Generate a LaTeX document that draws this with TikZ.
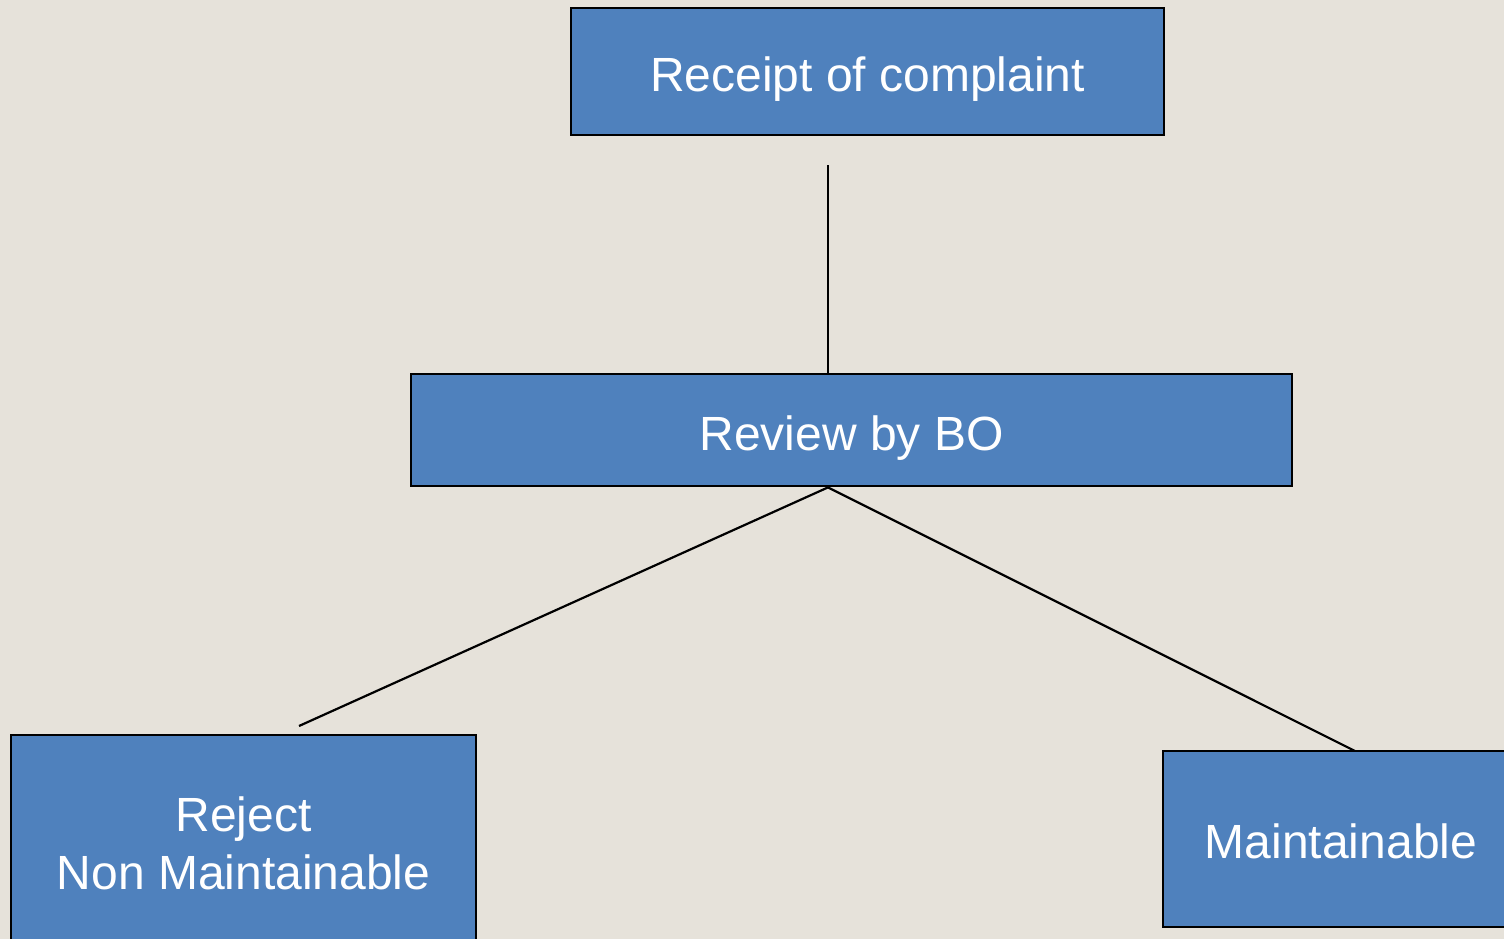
\documentclass[tikz,border=0pt]{standalone}
\usepackage{fontspec}
\setmainfont{Liberation Sans}
\definecolor{bg}{HTML}{E6E2DA}
\definecolor{boxblue}{HTML}{4F81BD}
\tikzset{
  box/.style={draw=black, line width=2.8pt, fill=boxblue, text=white, font=\fontsize{48}{58}\selectfont, align=center, inner sep=0pt, anchor=center},
  oneline/.style={text height=40pt, text depth=0pt},
  conn/.style={draw=black, line width=2.2pt}
}
\begin{document}
\begin{tikzpicture}[x=1pt,y=-1pt]
\useasboundingbox (0,0) rectangle (1504,939);
\clip (0,0) rectangle (1504,939);
\fill[bg] (0,0) rectangle (1504,939);
\node[box, oneline, minimum width=593pt, minimum height=127pt] (receipt) at (867.5,71.5) {Receipt of complaint};
\node[box, oneline, minimum width=881pt, minimum height=112pt] (review) at (851.5,430) {Review by BO};
\node[box, minimum width=465pt, minimum height=216pt] (reject) at (243.5,843) {Reject\\Non Maintainable};
\node[box, text height=38pt, text depth=0pt, minimum width=356pt, minimum height=176pt] (maint) at (1341,839) {Maintainable};
\coordinate (c1) at (828,165);
\coordinate (lend) at (299,726);
\coordinate (rend) at (1355,751);
\draw[conn] (c1) -- (c1 |- review.north);
\draw[conn] (c1 |- review.south) -- (lend);
\draw[conn] (c1 |- review.south) -- (rend);
\end{tikzpicture}
\end{document}
